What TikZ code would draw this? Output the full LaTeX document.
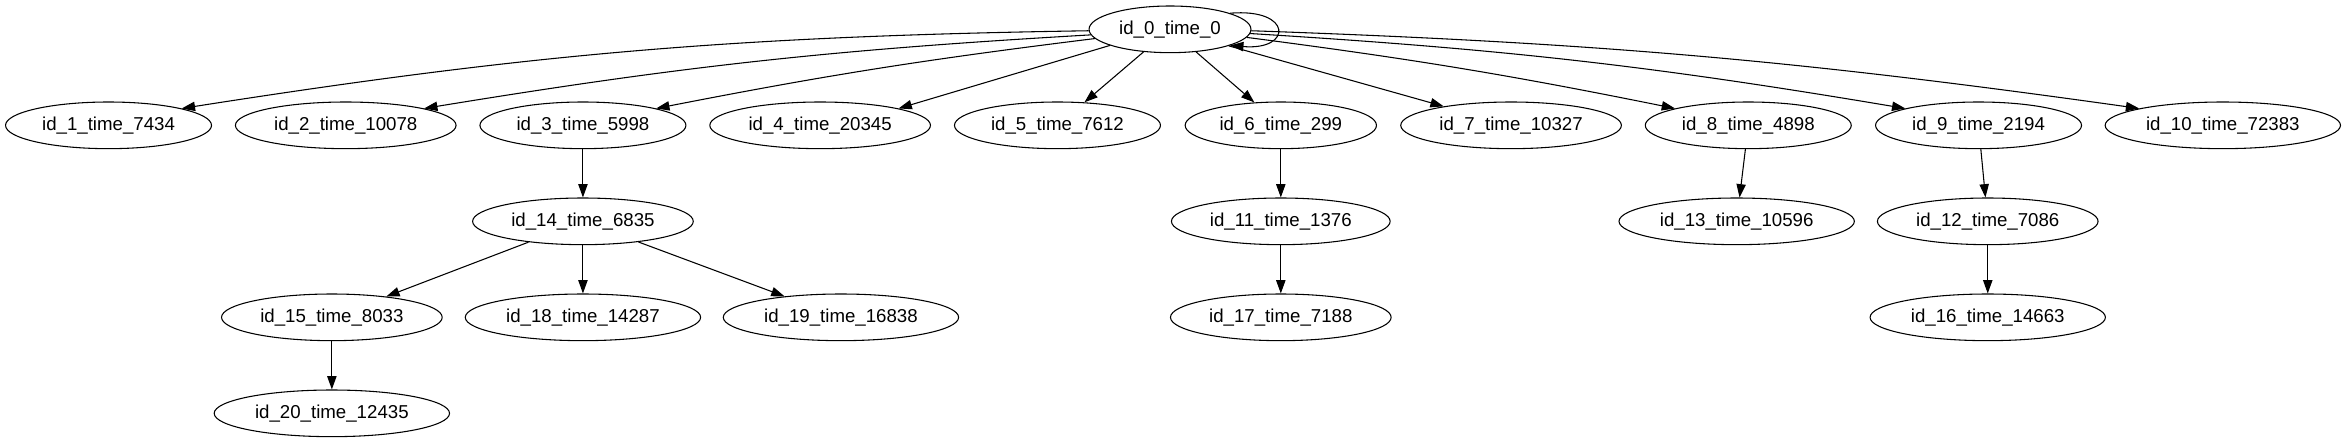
\documentclass[tikz,border=0pt]{standalone}
\usepackage{fontspec}
\setmainfont{Liberation Sans}
\usetikzlibrary{shapes.geometric,arrows.meta}
\begin{document}
\begin{tikzpicture}[x=1pt,y=1pt,line width=0.8pt,>={Triangle[length=10pt,width=7pt]},
	state/.style={ellipse,draw,minimum height=35pt,inner xsep=4.8pt,inner ysep=0pt,font=\fontsize{14pt}{16pt}\selectfont}]
		\useasboundingbox (0,0) rectangle (1758.75,-332.25);
		\node [state] (id0) at (877.5,-22) {id\_0\_time\_0};
		\node [state] (id1) at (81.4,-94) {id\_1\_time\_7434};
		\node [state] (id2) at (259.3,-94) {id\_2\_time\_10078};
		\node [state] (id3) at (437.2,-94) {id\_3\_time\_5998};
		\node [state] (id4) at (615.1,-94) {id\_4\_time\_20345};
		\node [state] (id5) at (793.1,-94) {id\_5\_time\_7612};
		\node [state] (id6) at (960.6,-94) {id\_6\_time\_299};
		\node [state] (id7) at (1133.3,-94) {id\_7\_time\_10327};
		\node [state] (id8) at (1311.2,-94) {id\_8\_time\_4898};
		\node [state] (id9) at (1483.9,-94) {id\_9\_time\_2194};
		\node [state] (id10) at (1667.1,-94) {id\_10\_time\_72383};
		\node [state] (id14) at (437.2,-166) {id\_14\_time\_6835};
		\node [state] (id11) at (960.6,-166) {id\_11\_time\_1376};
		\node [state] (id13) at (1302.5,-166) {id\_13\_time\_10596};
		\node [state] (id12) at (1490.8,-166) {id\_12\_time\_7086};
		\node [state] (id15) at (248.9,-238) {id\_15\_time\_8033};
		\node [state] (id18) at (437.2,-238) {id\_18\_time\_14287};
		\node [state] (id19) at (630.7,-238) {id\_19\_time\_16838};
		\node [state] (id17) at (960.6,-238) {id\_17\_time\_7188};
		\node [state] (id16) at (1490.8,-238) {id\_16\_time\_14663};
		\node [state] (id20) at (248.9,-310) {id\_20\_time\_12435};
		\draw[->] (id0.15) .. controls +(47,4) and +(47,-4) .. (id0.345);
		\draw[->] (id0.181) to[bend right=4] (id1.north east);
		\draw[->] (id0.184) to[bend right=3] (id2.north east);
		\draw[->] (id0.187) to[bend right=2] (id3.north east);
		\draw[->] (id0.195) -- (id4.north east);
		\draw[->] (id0) -- (id5);
		\draw[->] (id0) -- (id6);
		\draw[->] (id0) -- (id7);
		\draw[->] (id0.354) to[bend left=2] (id8.north west);
		\draw[->] (id0.357) to[bend left=3] (id9.north west);
		\draw[->] (id0.359) to[bend left=3] (id10.north west);
		\draw[->] (id3) -- (id14);
		\draw[->] (id14) -- (id15);
		\draw[->] (id14) -- (id18);
		\draw[->] (id14) -- (id19);
		\draw[->] (id15) -- (id20);
		\draw[->] (id6) -- (id11);
		\draw[->] (id11) -- (id17);
		\draw[->] (id8) -- (id13);
		\draw[->] (id9) -- (id12);
		\draw[->] (id12) -- (id16);
	\end{tikzpicture}
\end{document}
